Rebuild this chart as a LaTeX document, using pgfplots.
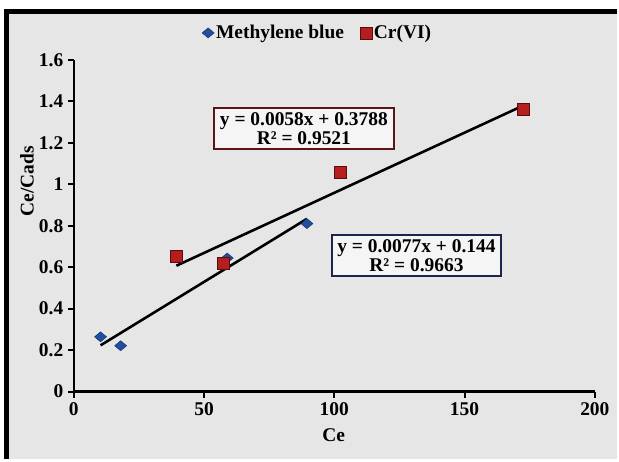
\documentclass[border=0pt]{standalone}
\usepackage{fontspec}
\setmainfont{Liberation Serif}
\usepackage{pgfplots}
\pgfplotsset{compat=1.18}
\definecolor{bg}{HTML}{E6E6E6}
\definecolor{mbblue}{HTML}{1F4FA0}
\definecolor{mbedge}{HTML}{14306A}
\definecolor{crred}{HTML}{B51E1E}
\definecolor{credge}{HTML}{5A0C0C}
\definecolor{boxred}{HTML}{5C1414}
\definecolor{boxblue}{HTML}{1C2452}

\begin{document}
\begin{tikzpicture}
% page and frame (1 px = 1 pt)
\fill[white] (0pt,0pt) rectangle (619pt,461pt);
\fill[bg] (6.5pt,0pt) rectangle (619pt,449.5pt);
\draw[line width=4.5pt] (6.5pt,0pt) -- (6.5pt,449.5pt) -- (619pt,449.5pt);

\begin{axis}[
    at={(74pt,68pt)}, anchor=south west,
    scale only axis,
    width=523pt, height=333pt,
    xmin=0, xmax=200, ymin=0, ymax=1.6,
    xtick={0,50,...,200},
    ytick={0,0.2,...,1.6},
    axis lines*=left,
    axis line style={line width=2.2pt, -},
    tick style={line width=2pt, black},
    tick align=outside,
    major tick length=6pt,
    /pgf/number format/assume math mode=true,
    tick label style={font=\bfseries\fontsize{19.5}{19.5}\selectfont},
    yticklabel style={xshift=-1pt},
    xticklabel style={yshift=-2pt},
    clip=false,
    legend style={at={(0.468,1.081)}, anchor=center, draw=none, fill=none,
        font=\bfseries\fontsize{19.5}{19.5}\selectfont, legend columns=2,
        /tikz/every even column/.append style={column sep=14pt}},
    legend cell align=left,
]
% Methylene blue
\addplot[only marks, mark=diamond*, mark size=5pt,
    mark options={xscale=1.6, fill=mbblue, draw=mbedge, line width=0.5pt}]
    coordinates {(10.3,0.264) (18,0.221) (58.9,0.644) (89.5,0.81)};
\addlegendentry{Methylene blue}
% Cr(VI)
\addplot[only marks, mark=square*, mark size=6pt,
    mark options={fill=crred, draw=credge, line width=0.7pt}]
    coordinates {(39.4,0.65) (57.4,0.62) (102.5,1.058) (172.5,1.36)};
\addlegendentry{Cr(VI)}
% trend lines
\addplot[black, line width=2.6pt, forget plot] coordinates {(10.3,0.223) (89.5,0.833)};
\addplot[black, line width=2.6pt, forget plot] coordinates {(39.4,0.607) (172.5,1.379)};
\end{axis}

% axis titles
\node[rotate=90, font=\bfseries\fontsize{19.5}{19.5}\selectfont] at (27pt,279pt) {Ce/Cads};
\node[font=\bfseries\fontsize{19.5}{19.5}\selectfont] at (335pt,24pt) {Ce};

% equation boxes
\node[draw=boxred, line width=2pt, fill=white!60!bg, inner xsep=2pt, inner ysep=1pt,
      align=center, font=\bfseries\fontsize{19.5}{19}\selectfont,
      minimum width=180pt, minimum height=42pt] at (305pt,332pt)
      {y = 0.0058x + 0.3788\\R² = 0.9521};
\node[draw=boxblue, line width=2pt, fill=white!60!bg, inner xsep=2pt, inner ysep=1pt,
      align=center, font=\bfseries\fontsize{19.5}{19}\selectfont,
      minimum width=170pt, minimum height=41pt] at (418pt,204.5pt)
      {y = 0.0077x + 0.144\\R² = 0.9663};
\end{tikzpicture}
\end{document}
